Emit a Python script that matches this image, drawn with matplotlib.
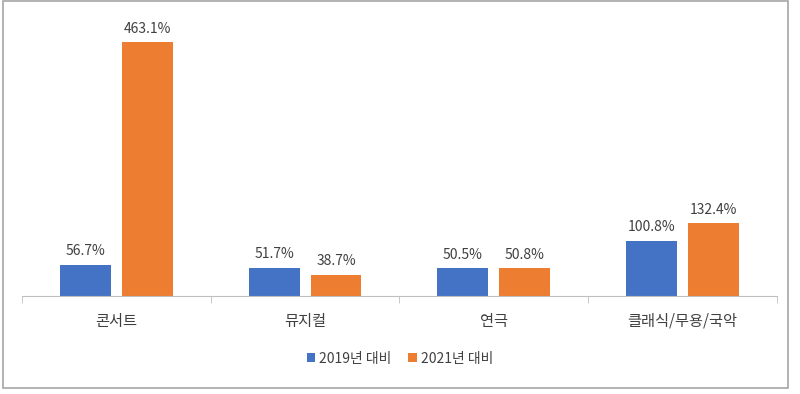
import matplotlib
matplotlib.use('Agg')
import matplotlib.pyplot as plt
from matplotlib.patches import Rectangle
import numpy as np

plt.rcParams['font.family'] = ['Noto Sans CJK KR', 'DejaVu Sans']

categories = ['콘서트', '뮤지컬', '연극', '클래식/무용/국악']
series_names = ['2019년 대비', '2021년 대비']
vs_2019 = [56.7, 51.7, 50.5, 100.8]
vs_2021 = [463.1, 38.7, 50.8, 132.4]
colors = ['#4472C4', '#ED7D31']

fig = plt.figure(figsize=(8, 3.94), dpi=100)
ax = fig.add_axes([0.0275, 0.2487, 0.9435, 0.6953])

x = np.arange(len(categories))
width = 0.27
gap = 0.058
offset = (width + gap) / 2

for vals, name, col, sign in [(vs_2019, series_names[0], colors[0], -1),
                              (vs_2021, series_names[1], colors[1], 1)]:
    bars = ax.bar(x + sign * offset, vals, width, color=col, label=name)
    for b, v in zip(bars, vals):
        ax.text(b.get_x() + b.get_width() / 2, v + 12, f'{v:.1f}%',
                ha='center', va='bottom', fontsize=10, color='#404040')

ax.set_xlim(-0.5, len(categories) - 0.5)
ax.set_ylim(0, 500)
ax.set_yticks([])
for s in ['top', 'right', 'left']:
    ax.spines[s].set_visible(False)
ax.spines['bottom'].set_color('#bfbfbf')
ax.set_xticks(np.arange(len(categories) + 1) - 0.5, minor=True)
ax.set_xticks(x)
ax.set_xticklabels(categories, fontsize=11, color='#404040')
ax.tick_params(axis='x', which='major', length=0, pad=12)
ax.tick_params(axis='x', which='minor', length=5, color='#bfbfbf')

fig.legend(loc='center', bbox_to_anchor=(0.5, 0.09), ncol=2, frameon=False,
           fontsize=10, handlelength=0.6, handleheight=0.6, handletextpad=0.3,
           columnspacing=1.2, labelcolor='#404040')

fig.patches.append(Rectangle((0.004, 0.015), 0.981, 0.982, transform=fig.transFigure,
                             fill=False, edgecolor='#a6a6a6', linewidth=1.2))

fig.savefig('out.png', dpi=100, facecolor='white')
